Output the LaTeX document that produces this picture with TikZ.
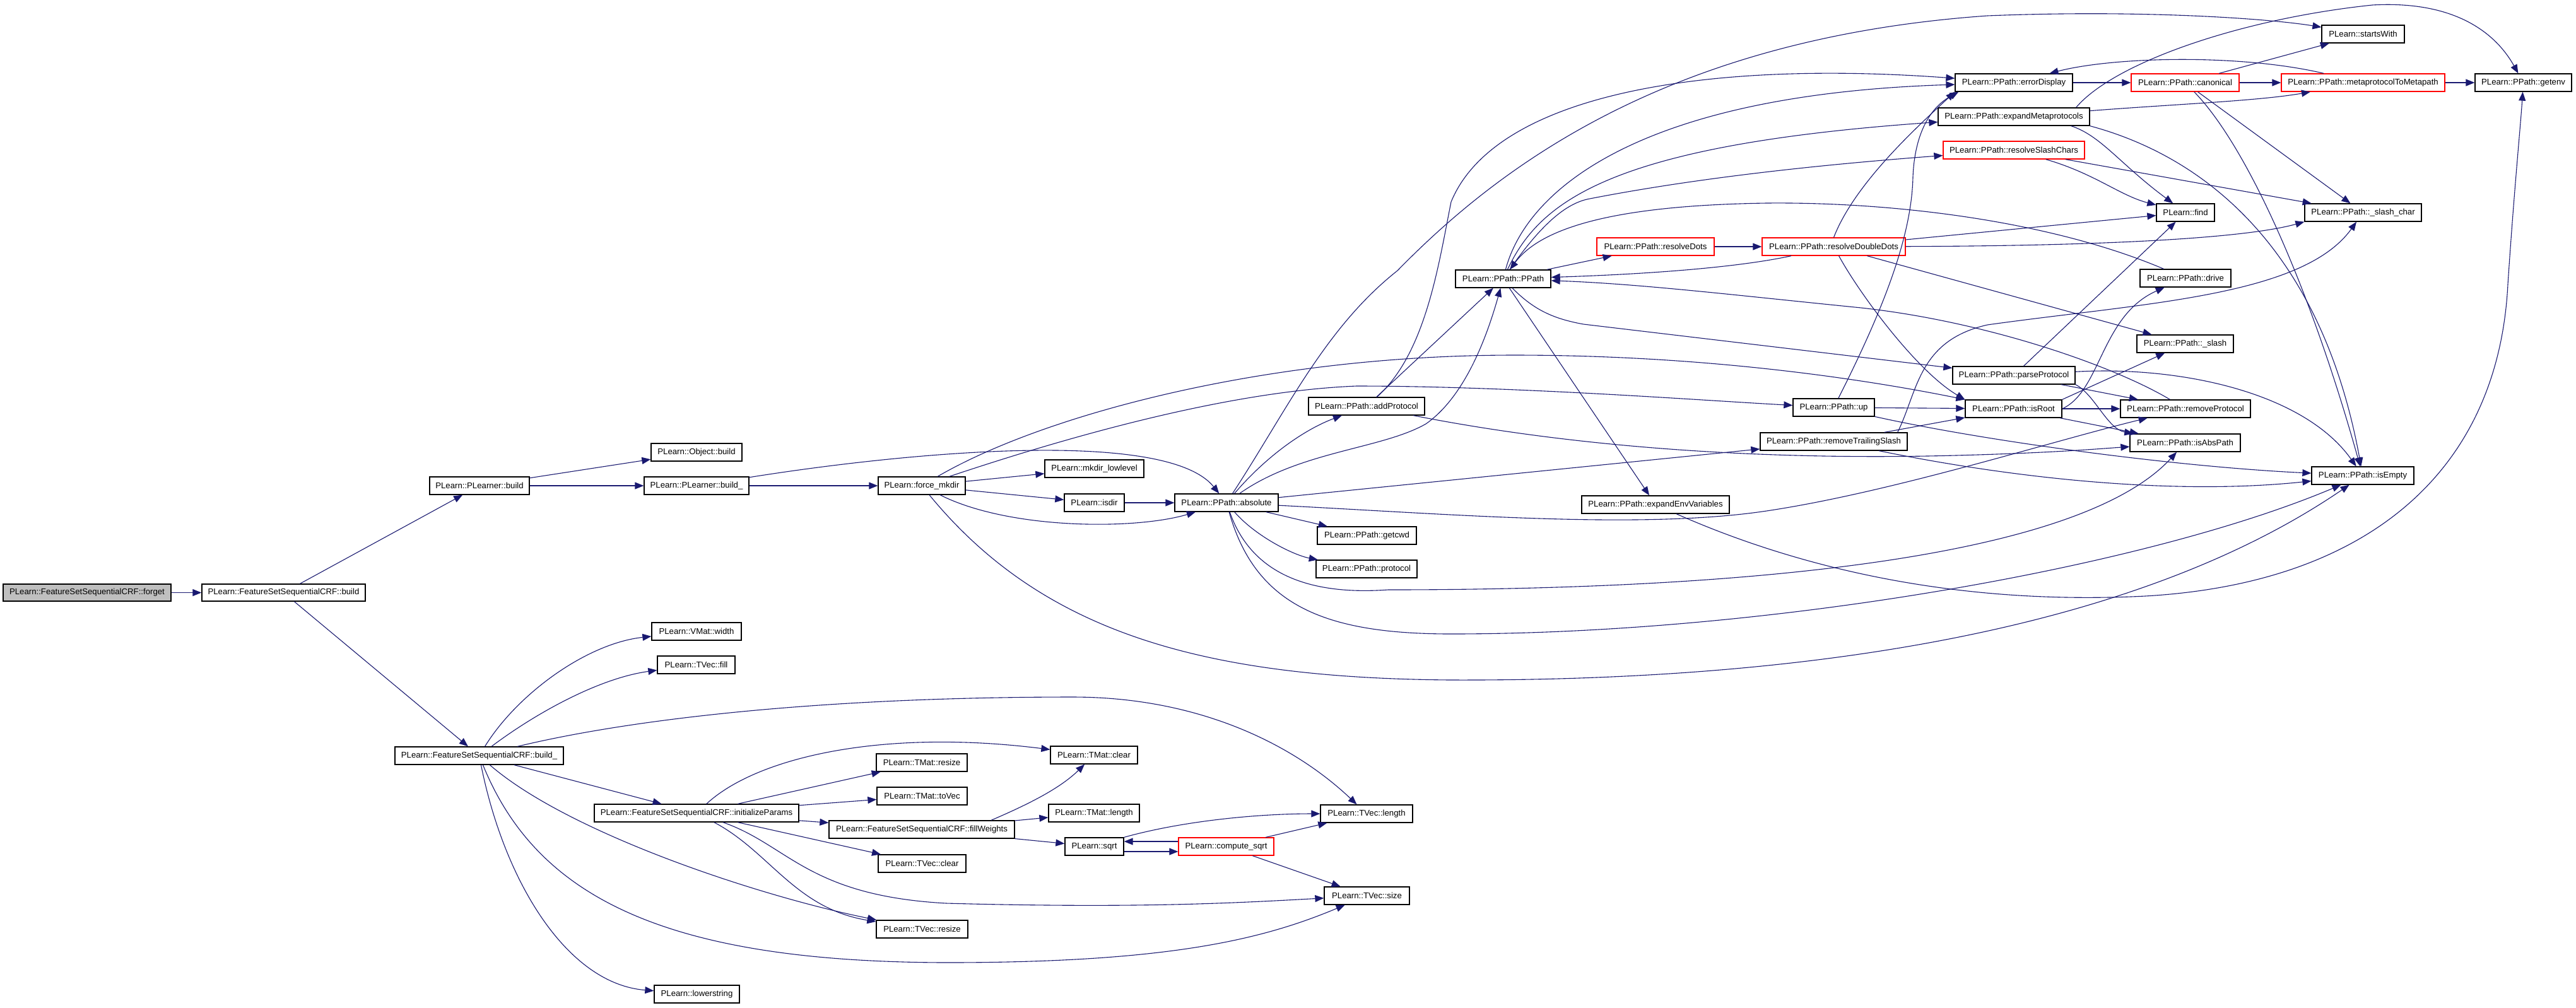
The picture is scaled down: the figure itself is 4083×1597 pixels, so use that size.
\documentclass[tikz,border=0pt]{standalone}
\usepackage{fontspec}
\setmainfont{Liberation Sans}
\usetikzlibrary{arrows.meta}
\definecolor{edgeblue}{HTML}{191970}
\definecolor{redb}{HTML}{FF0000}
\definecolor{grayf}{HTML}{BFBFBF}
\newcommand\nd[6]{\node[box,#6,minimum width={(#4-#2)*0.5pt},minimum height={(#5-#3)*0.5pt}] (#1) at ({(#2+#4)/2},{(#3+#5)/2})}
\begin{document}
\begin{tikzpicture}[x=0.5pt,y=-0.5pt,
  box/.style={draw=black,line width=0.65pt,fill=white,inner sep=0pt,font=\fontsize{6.6pt}{7pt}\selectfont},
  redbox/.style={draw=redb},
  root/.style={fill=grayf},
  e/.style={draw=edgeblue,line width=0.55pt,-{Triangle[length=7pt,width=5.5pt]},fill=none}]
\fill[white] (0,0) rectangle (4083,1597);
\useasboundingbox (0,0) rectangle (4083,1597);
% nodes
\nd{forget}{5}{926}{271}{953}{root} {PLearn::FeatureSetSequentialCRF::forget};
\nd{fbuild}{320}{926}{579}{953}{} {PLearn::FeatureSetSequentialCRF::build};
\nd{plbuild}{681}{756}{839}{784}{} {PLearn::PLearner::build};
\nd{objbuild}{1032}{703}{1176}{731}{} {PLearn::Object::build};
\nd{plbuildu}{1021}{756}{1187}{784}{} {PLearn::PLearner::build\_};
\nd{fmkdir}{1392}{756}{1530}{784}{} {PLearn::force\_mkdir};
\nd{mkdirll}{1656}{729}{1813}{757}{} {PLearn::mkdir\_lowlevel};
\nd{isdir}{1687}{783}{1782}{811}{} {PLearn::isdir};
\nd{absolute}{1862}{783}{2026}{811}{} {PLearn::PPath::absolute};
\nd{addproto}{2074}{630}{2258}{658}{} {PLearn::PPath::addProtocol};
\nd{getcwd}{2088}{835}{2245}{863}{} {PLearn::PPath::getcwd};
\nd{protocol}{2086}{888}{2246}{916}{} {PLearn::PPath::protocol};
\nd{ppath}{2307}{428}{2458}{456}{} {PLearn::PPath::PPath};
\nd{rdots}{2531}{377}{2717}{405}{redbox} {PLearn::PPath::resolveDots};
\nd{rddots}{2793}{377}{3020}{405}{redbox} {PLearn::PPath::resolveDoubleDots};
\nd{expenv}{2507}{786}{2741}{814}{} {PLearn::PPath::expandEnvVariables};
\nd{up}{2842}{632}{2971}{660}{} {PLearn::PPath::up};
\nd{rmtrail}{2790}{686}{3023}{714}{} {PLearn::PPath::removeTrailingSlash};
\nd{errdisp}{3099}{117}{3285}{145}{} {PLearn::PPath::errorDisplay};
\nd{expmeta}{3072}{171}{3312}{199}{} {PLearn::PPath::expandMetaprotocols};
\nd{rslash}{3080}{224}{3304}{252}{redbox} {PLearn::PPath::resolveSlashChars};
\nd{canon}{3378}{117}{3549}{145}{redbox} {PLearn::PPath::canonical};
\nd{mtm}{3616}{117}{3875}{145}{redbox} {PLearn::PPath::metaprotocolToMetapath};
\nd{getenv}{3923}{117}{4076}{145}{} {PLearn::PPath::getenv};
\nd{starts}{3680}{40}{3811}{68}{} {PLearn::startsWith};
\nd{find}{3418}{323}{3510}{351}{} {PLearn::find};
\nd{slashchar}{3653}{323}{3838}{351}{} {PLearn::PPath::\_slash\_char};
\nd{drive}{3392}{427}{3536}{455}{} {PLearn::PPath::drive};
\nd{slash}{3387}{531}{3540}{559}{} {PLearn::PPath::\_slash};
\nd{parse}{3095}{581}{3289}{609}{} {PLearn::PPath::parseProtocol};
\nd{isroot}{3115}{634}{3268}{662}{} {PLearn::PPath::isRoot};
\nd{rmproto}{3361}{634}{3567}{662}{} {PLearn::PPath::removeProtocol};
\nd{isabs}{3376}{688}{3551}{716}{} {PLearn::PPath::isAbsPath};
\nd{isempty}{3664}{740}{3826}{768}{} {PLearn::PPath::isEmpty};
\nd{buildu}{626}{1184}{893}{1212}{} {PLearn::FeatureSetSequentialCRF::build\_};
\nd{vwidth}{1033}{987}{1175}{1015}{} {PLearn::VMat::width};
\nd{tfill}{1042}{1040}{1165}{1068}{} {PLearn::TVec::fill};
\nd{initp}{942}{1275}{1266}{1303}{} {PLearn::FeatureSetSequentialCRF::initializeParams};
\nd{tmresize}{1389}{1195}{1533}{1223}{} {PLearn::TMat::resize};
\nd{tmtovec}{1390}{1248}{1533}{1276}{} {PLearn::TMat::toVec};
\nd{fillw}{1314}{1301}{1608}{1329}{} {PLearn::FeatureSetSequentialCRF::fillWeights};
\nd{tvclear}{1392}{1355}{1531}{1383}{} {PLearn::TVec::clear};
\nd{tvresize}{1389}{1459}{1534}{1487}{} {PLearn::TVec::resize};
\nd{lower}{1037}{1562}{1172}{1590}{} {PLearn::lowerstring};
\nd{tmclear}{1665}{1183}{1803}{1211}{} {PLearn::TMat::clear};
\nd{tmlength}{1662}{1275}{1806}{1303}{} {PLearn::TMat::length};
\nd{sqrt}{1688}{1328}{1781}{1356}{} {PLearn::sqrt};
\nd{csqrt}{1868}{1328}{2019}{1356}{redbox} {PLearn::compute\_sqrt};
\nd{tvlength}{2093}{1276}{2239}{1304}{} {PLearn::TVec::length};
\nd{tvsize}{2099}{1406}{2234}{1434}{} {PLearn::TVec::size};
% edges upper part
\draw[e] (forget) -- (fbuild);
\draw[e] (fbuild) -- (plbuild);
\draw[e] (fbuild) -- (buildu);
\draw[e] (plbuild) -- (objbuild);
\draw[e] (plbuild) -- (plbuildu);
\draw[e] (plbuildu) -- (fmkdir);
\draw[e] (plbuildu) .. controls (1450,715) and (1850,680) .. (absolute);
\draw[e] (fmkdir) -- (mkdirll);
\draw[e] (fmkdir) -- (isdir);
\draw[e] (fmkdir) .. controls (1600,840) and (1800,840) .. (absolute);
\draw[e] (fmkdir) .. controls (1650,660) and (2000,563) .. (2400,563) .. controls (2700,563) and (2950,600) .. (isroot.north west);
\draw[e] (fmkdir) .. controls (1700,690) and (1950,620) .. (2150,612) .. controls (2400,612) and (2700,635) .. (up);
\draw[e] (fmkdir) .. controls (1650,1000) and (1900,1075) .. (2300,1078) .. controls (2900,1080) and (3400,990) .. (isempty);
\draw[e] (isdir) -- (absolute);
\draw[e] (absolute) .. controls (2010,720) and (2070,680) .. (addproto);
\draw[e] (absolute) -- (getcwd);
\draw[e] (absolute) .. controls (1990,850) and (2050,880) .. (protocol);
\draw[e] (absolute) .. controls (2060,715) and (2190,712) .. (2260,672) .. controls (2320,630) and (2355,540) .. (ppath);
\draw[e] (absolute) .. controls (2040,650) and (2100,520) .. (2215,429) .. controls (2380,260) and (2650,60) .. (3150,25) .. controls (3400,15) and (3600,30) .. (starts);
\draw[e] (absolute) -- (rmtrail);
\draw[e] (absolute) .. controls (2300,815) and (2600,840) .. (2800,810) .. controls (3000,780) and (3250,700) .. (rmproto);
\draw[e] (absolute) .. controls (1980,900) and (2060,945) .. (2200,935) .. controls (2800,935) and (3300,880) .. (isabs);
\draw[e] (absolute) .. controls (1990,960) and (2100,1005) .. (2300,1005) .. controls (2800,1005) and (3400,900) .. (isempty);
\draw[e] (addproto) -- (ppath);
\draw[e] (addproto) .. controls (2260,560) and (2280,420) .. (2300,320) .. controls (2370,150) and (2700,95) .. (errdisp);
\draw[e] (addproto) .. controls (2500,710) and (2800,730) .. (3100,722) .. controls (3250,718) and (3320,712) .. (isabs);
\draw[e] (ppath) .. controls (2420,300) and (2600,150) .. (errdisp);
\draw[e] (ppath) .. controls (2440,320) and (2550,230) .. (expmeta);
\draw[e] (ppath) .. controls (2440,360) and (2480,322) .. (2520,315) .. controls (2700,280) and (2900,260) .. (rslash);
\draw[e] (ppath) -- (rdots);
\draw[e] (ppath) -- (expenv);
\draw[e] (ppath) .. controls (2430,490) and (2460,505) .. (2510,514) -- (parse);
\draw[e] (rdots) -- (rddots);
\draw[e] (rddots) .. controls (2750,425) and (2600,435) .. (ppath);
\draw[e] (rddots.north) .. controls (2940,290) and (3040,200) .. (errdisp.south west);
\draw[e] (rddots) -- (find);
\draw[e] (rddots) .. controls (3300,390) and (3550,380) .. (slashchar.south west);
\draw[e] (rddots) -- (slash);
\draw[e] (rddots) .. controls (2950,470) and (3040,590) .. (isroot.north west);
\draw[e] (drive) .. controls (3250,350) and (3000,320) .. (2800,322) .. controls (2600,325) and (2450,350) .. (ppath);
\draw[e] (rmproto) .. controls (3350,580) and (3150,510) .. (2950,488) .. controls (2750,468) and (2600,450) .. (ppath);
\draw[e] (up) .. controls (2980,500) and (3030,380) .. (3032,280) .. controls (3035,210) and (3060,170) .. ([xshift=3pt]errdisp.south west);
\draw[e] (up) -- (isroot);
\draw[e] (up) .. controls (3150,700) and (3450,740) .. (isempty);
\draw[e] (rmtrail) -- (isroot);
\draw[e] ([xshift=-8pt]rmtrail.north east) .. controls (3040,620) and (3040,540) .. (3150,515) .. controls (3400,480) and (3650,470) .. (slashchar);
\draw[e] (rmtrail) .. controls (3200,760) and (3450,785) .. (isempty);
\draw[e] (errdisp) -- (canon);
\draw[e] (canon) -- (mtm);
\draw[e] (canon) -- (starts);
\draw[e] (canon) -- (slashchar);
\draw[e] (canon) .. controls (3560,230) and (3660,450) .. (isempty);
\draw[e] (mtm) -- (getenv);
\draw[e] (mtm) .. controls (3550,85) and (3350,90) .. (errdisp);
\draw[e] (expmeta) .. controls (3450,165) and (3580,160) .. (mtm);
\draw[e] ([xshift=-11pt]expmeta.north east) .. controls (3350,100) and (3550,30) .. (3760,8) .. controls (3900,0) and (3960,60) .. (getenv);
\draw[e] ([xshift=-15pt]expmeta.south east) .. controls (3330,215) and (3360,260) .. (find);
\draw[e] (expmeta.south east) .. controls (3500,250) and (3680,400) .. (isempty);
\draw[e] (rslash) .. controls (3320,275) and (3360,310) .. (find);
\draw[e] (rslash) -- (slashchar);
\draw[e] (expenv) .. controls (2850,900) and (3100,960) .. (3400,945) .. controls (3750,925) and (3960,750) .. (3975,450) .. controls (3985,300) and (3995,200) .. (getenv);
\draw[e] (parse) -- (find);
\draw[e] (parse) -- (rmproto);
\draw[e] (parse.south east) .. controls (3320,625) and (3340,680) .. (isabs);
\draw[e] (parse) .. controls (3450,580) and (3650,620) .. (isempty);
\draw[e] (isroot.east) .. controls (3330,620) and (3330,500) .. (drive);
\draw[e] (isroot.north east) -- (slash);
\draw[e] (isroot) -- (rmproto);
\draw[e] (isroot) -- (isabs);
% edges lower part
\draw[e] (buildu) .. controls (820,1100) and (930,1020) .. (vwidth);
\draw[e] (buildu) .. controls (850,1130) and (950,1075) .. (tfill);
\draw[e] (buildu) .. controls (1000,1140) and (1300,1105) .. (1700,1105) .. controls (1900,1105) and (2050,1180) .. (tvlength);
\draw[e] (buildu) -- (initp);
\draw[e] (buildu) .. controls (900,1320) and (1200,1420) .. (tvresize);
\draw[e] (buildu) .. controls (850,1420) and (1050,1525) .. (1500,1526) .. controls (1850,1526) and (2000,1490) .. (tvsize);
\draw[e] (buildu) .. controls (800,1400) and (900,1560) .. (lower);
\draw[e] (initp) .. controls (1200,1200) and (1400,1155) .. (tmclear);
\draw[e] (initp) -- (tmresize);
\draw[e] (initp) -- (tmtovec);
\draw[e] (initp) -- (fillw);
\draw[e] (initp) -- (tvclear);
\draw[e] (initp) .. controls (1220,1350) and (1260,1440) .. (tvresize);
\draw[e] (initp) .. controls (1250,1340) and (1280,1420) .. (1500,1432) .. controls (1800,1440) and (1950,1432) .. (tvsize);
\draw[e] ([xshift=55pt]fillw.north) .. controls (1630,1275) and (1680,1250) .. (tmclear);
\draw[e] (fillw) -- (tmlength);
\draw[e] (fillw) -- (sqrt);
\draw[e] ([yshift=-4pt]sqrt.east) -- ([yshift=-4pt]csqrt.west);
\draw[e] ([yshift=4pt]csqrt.west) -- ([yshift=4pt]sqrt.east);
\draw[e] (sqrt.north east) .. controls (1880,1300) and (2000,1290) .. (tvlength);
\draw[e] (csqrt) -- (tvlength);
\draw[e] (csqrt) -- (tvsize);
\end{tikzpicture}
\end{document}
